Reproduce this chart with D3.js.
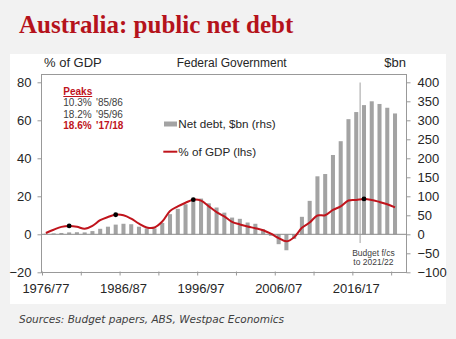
<!DOCTYPE html>
<html><head><meta charset="utf-8">
<script src="https://cdn.jsdelivr.net/npm/d3@7"></script>
<style>body{margin:0;background:#f2f2f2}svg{display:block}</style>
</head><body><svg id="c" width="456" height="339"></svg>
<script>
const categories = ["1976/77","1977/78","1978/79","1979/80","1980/81","1981/82","1982/83","1983/84","1984/85","1985/86",
"1986/87","1987/88","1988/89","1989/90","1990/91","1991/92","1992/93","1993/94","1994/95","1995/96",
"1996/97","1997/98","1998/99","1999/00","2000/01","2001/02","2002/03","2003/04","2004/05","2005/06",
"2006/07","2007/08","2008/09","2009/10","2010/11","2011/12","2012/13","2013/14","2014/15","2015/16",
"2016/17","2017/18","2018/19","2019/20","2020/21","2021/22"];
const netDebtBn = [1.5,2.5,3.5,5,5.5,5,8.5,14.5,20,25.5,
27.7,26.5,20,15.6,15.6,30,53,67,79,88.5,
94,81.5,70.5,57,44,40.7,31,27.7,13.5,-4,
-26,-42,-12,46,88,152.6,158.6,208.7,245,303,
321.7,340,350,343,333,318];
const pctGDP = [0.7,2.4,3.9,4.4,4.0,2.9,4.4,7.4,9.1,10.3,
10.0,8.2,5.6,3.6,3.6,6.7,12.3,14.7,16.6,18.2,
17.7,14.7,11.7,9.4,6.5,5.2,4.1,3.2,2.1,0.3,
-2.0,-3.7,-1.5,3.4,6.2,9.9,10.0,12.8,14.7,17.8,
18.1,18.6,18.1,17.0,15.8,14.2];
const peakMarkers = ["1979/80","1985/86","1995/96","2017/18"];
const xTickLabels = ["1976/77","1986/87","1996/97","2006/07","2016/17"];
const leftTicks = [-20,0,20,40,60,80];
const rightTicks = [-100,-50,0,50,100,150,200,250,300,350,400];
const peaksRows = [["10.3%","'85/86"],["18.2%","'95/96"],["18.6%","'17/18"]];
const forecastStart = "2017/18";

const svg = d3.select("#c");
const FONT = "'Liberation Sans', Arial, sans-serif";
const AX = "#999999", TXT = "#262626", RED = "#c0141c", BAR = "#a3a3a3";

svg.append("rect").attr("width",456).attr("height",339).attr("fill","#f2f2f2");
svg.append("rect").attr("x",10).attr("y",54).attr("width",436).attr("height",250).attr("fill","#ffffff");

svg.append("text").attr("x",19).attr("y",33)
  .attr("font-family","'Liberation Serif', 'Times New Roman', serif").attr("font-weight","bold")
  .attr("font-size",25).attr("fill","#b5121b").text("Australia: public net debt");

const L = 41.5, R = 406.5, T = 74.5, B = 272.5;
const x = d3.scaleBand().domain(categories).range([42, 398.9]).paddingInner(0.48).paddingOuter(0.24);
const xIdx = d3.scaleLinear().domain([0, categories.length]).range([42, 398.9]);
const yL = d3.scaleLinear().domain([-20, 80]).range([272.3, 82.3]);
const yR = d3.scaleLinear().domain([-100, 400]).range([272.3, 82.3]);
const cx = c => x(c) + x.bandwidth()/2;

// frame
svg.append("rect").attr("x",L).attr("y",T).attr("width",R-L).attr("height",B-T)
  .attr("fill","none").attr("stroke",AX).attr("stroke-width",1);

// header labels
const hdr = svg.append("g").attr("font-family",FONT).attr("fill",TXT);
hdr.append("text").attr("x",44).attr("y",67).attr("font-size",13).text("% of GDP");
hdr.append("text").attr("x",231.7).attr("y",67).attr("font-size",12).attr("text-anchor","middle").text("Federal Government");
hdr.append("text").attr("x",406).attr("y",67).attr("font-size",13).attr("text-anchor","end").text("$bn");

// bars
svg.append("g").selectAll("rect").data(categories).join("rect")
  .attr("x", c => x(c))
  .attr("width", x.bandwidth())
  .attr("y", (c,i) => yR(Math.max(0, netDebtBn[i])))
  .attr("height", (c,i) => Math.abs(yR(netDebtBn[i]) - yR(0)))
  .attr("fill", BAR);

// zero line
svg.append("line").attr("x1",L).attr("x2",R).attr("y1",yR(0)).attr("y2",yR(0))
  .attr("stroke","#8a8a8a").attr("stroke-width",1);

// budget forecast marker
const bx = xIdx(categories.indexOf(forecastStart));
svg.append("line").attr("x1",bx).attr("x2",bx).attr("y1",82.5).attr("y2",243)
  .attr("stroke","#a0a0a0").attr("stroke-width",1);
const bt = svg.append("g").attr("font-family",FONT).attr("font-size",8.5).attr("fill","#404040").attr("text-anchor","middle");
bt.append("text").attr("x",373.4).attr("y",255.5).text("Budget f/cs");
bt.append("text").attr("x",373.4).attr("y",265).text("to 2021/22");

// line
const line = d3.line().x((d,i) => cx(categories[i])).y(d => yL(d)).curve(d3.curveCatmullRom.alpha(0.5));
svg.append("path").datum(pctGDP).attr("d", line).attr("fill","none")
  .attr("stroke",RED).attr("stroke-width",2);

// peak markers
svg.append("g").selectAll("circle").data(peakMarkers).join("circle")
  .attr("cx", c => cx(c)).attr("cy", c => yL(pctGDP[categories.indexOf(c)]))
  .attr("r", 2.4).attr("fill","#000");

// axes
const gl = svg.append("g").attr("transform",`translate(${L},0)`)
  .call(d3.axisLeft(yL).tickValues(leftTicks).tickSize(4).tickPadding(6));
const gr = svg.append("g").attr("transform",`translate(${R},0)`)
  .call(d3.axisRight(yR).tickValues(rightTicks).tickSize(4).tickPadding(7));
const gb = svg.append("g").attr("transform",`translate(0,${B})`)
  .call(d3.axisBottom(x).tickValues(xTickLabels).tickSize(0).tickPadding(11.5));
const gt = svg.append("g").attr("transform",`translate(0,${B-1})`)
  .call(d3.axisBottom(xIdx).tickValues(d3.range(0, categories.length, 5)).tickSize(4).tickFormat(""));
[gl,gr,gb,gt].forEach(g => {
  g.select(".domain").remove();
  g.selectAll(".tick line").attr("stroke",AX);
  g.selectAll("text").attr("font-family",FONT).attr("font-size",13).attr("fill",TXT);
});

// legend
const lg = svg.append("g").attr("font-family",FONT).attr("font-size",11.7).attr("fill",TXT);
lg.append("rect").attr("x",164).attr("y",121.5).attr("width",13).attr("height",5).attr("fill",BAR);
lg.append("text").attr("x",178.3).attr("y",128.3).text("Net debt, $bn (rhs)");
lg.append("line").attr("x1",163.3).attr("x2",177.3).attr("y1",151.7).attr("y2",151.7).attr("stroke",RED).attr("stroke-width",2);
lg.append("text").attr("x",178.3).attr("y",156).text("% of GDP (lhs)");

// peaks table
const pk = svg.append("g").attr("font-family",FONT).attr("font-size",10);
pk.append("text").attr("x",63.3).attr("y",95).attr("fill",RED).attr("font-weight","bold")
  .attr("text-decoration","underline").text("Peaks");
peaksRows.forEach((r,i) => {
  const last = i === peaksRows.length - 1;
  const col = last ? RED : "#404040";
  const fw = last ? "bold" : "normal";
  const yy = 106.3 + i*11.5;
  pk.append("text").attr("x",63.3).attr("y",yy).attr("fill",col).attr("font-weight",fw).text(r[0]);
  pk.append("text").attr("x",96).attr("y",yy).attr("fill",col).attr("font-weight",fw).text(r[1]);
});

// source
svg.append("text").attr("x",19).attr("y",323).attr("font-family","'DejaVu Sans', Verdana, sans-serif")
  .attr("font-style","italic").attr("font-size",10.5).attr("fill","#404040")
  .text("Sources: Budget papers, ABS, Westpac Economics");
</script></body></html>
